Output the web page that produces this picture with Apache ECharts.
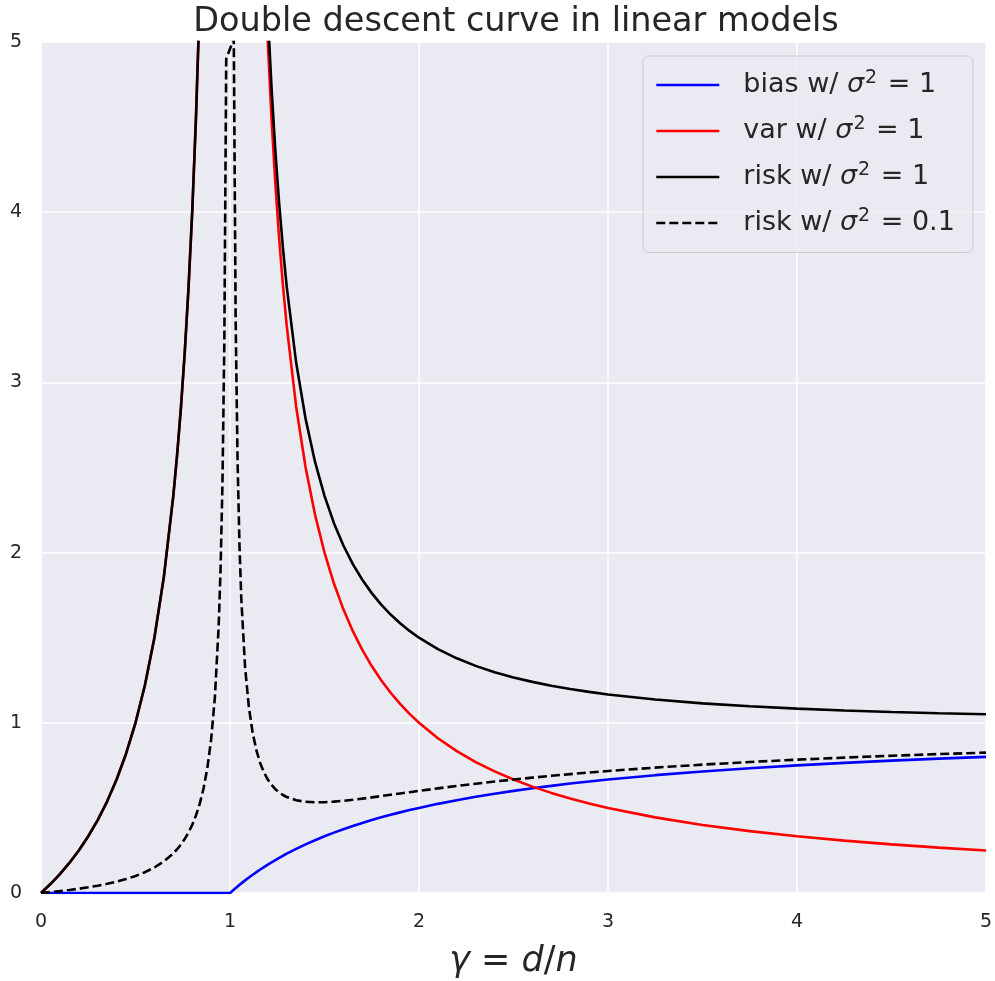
<!DOCTYPE html>
<html>
<head>
<meta charset="utf-8">
<script src="https://cdn.jsdelivr.net/npm/echarts@6/dist/echarts.min.js"></script>
<style>
html,body{margin:0;padding:0;background:#fff;}
#c{width:995px;height:981px;}
</style>
</head>
<body>
<div id="c"></div>
<script>
// gamma = d/n sample points
var X = [0,0.05,0.1,0.15,0.2,0.25,0.3,0.35,0.4,0.45,0.5,0.55,0.6,0.65,0.7,
  0.72,0.74,0.76,0.78,0.8,0.82,0.84,0.86,0.88,0.9,0.92,0.94,0.95,0.96,0.97,0.98,
  1.0,
  1.02,1.03,1.04,1.05,1.06,1.08,1.1,1.12,1.14,1.16,1.18,1.2,1.22,1.24,1.26,1.28,1.3,
  1.35,1.4,1.45,1.5,1.55,1.6,1.65,1.7,1.75,1.8,1.85,1.9,1.95,2.0,
  2.1,2.2,2.3,2.4,2.5,2.6,2.7,2.8,2.9,3.0,
  3.25,3.5,3.75,4.0,4.25,4.5,4.75,5.0];

var BIAS = [0,0,0,0,0,0,0,0,0,0,0,0,0,0,0,
  0,0,0,0,0,0,0,0,0,0,0,0,0,0,0,0,
  0,
  0.0196,0.0291,0.0385,0.0476,0.0566,0.0741,0.0909,0.1071,0.1228,0.1379,0.1525,0.1667,0.1803,0.1935,0.2063,0.2188,0.2308,
  0.2593,0.2857,0.3103,0.3333,0.3548,0.375,0.3939,0.4118,0.4286,0.4444,0.4595,0.4737,0.4872,0.5,
  0.5238,0.5455,0.5652,0.5833,0.6,0.6154,0.6296,0.6429,0.6552,0.6667,
  0.6923,0.7143,0.7333,0.75,0.7647,0.7778,0.7895,0.8];

var VAR1 = [0,0.0526,0.1111,0.1765,0.25,0.3333,0.4286,0.5385,0.6667,0.8182,1,1.2222,1.5,1.8571,2.3333,
  2.5714,2.8462,3.1667,3.5455,4,4.5556,5.25,6.1429,7.3333,9,11.5,15.667,19,24,32.333,49,
  null,
  50,33.333,25,20,16.667,12.5,10,8.3333,7.1429,6.25,5.5556,5,4.5455,4.1667,3.8462,3.5714,3.3333,
  2.8571,2.5,2.2222,2,1.8182,1.6667,1.5385,1.4286,1.3333,1.25,1.1765,1.1111,1.0526,1,
  0.9091,0.8333,0.7692,0.7143,0.6667,0.625,0.5882,0.5556,0.5263,0.5,
  0.4444,0.4,0.3636,0.3333,0.3077,0.2857,0.2667,0.25];

var RISK1 = [0,0.0526,0.1111,0.1765,0.25,0.3333,0.4286,0.5385,0.6667,0.8182,1,1.2222,1.5,1.8571,2.3333,
  2.5714,2.8462,3.1667,3.5455,4,4.5556,5.25,6.1429,7.3333,9,11.5,15.667,19,24,32.333,49,
  null,
  50.02,33.362,25.038,20.048,16.723,12.574,10.091,8.4405,7.2657,6.3879,5.7081,5.1667,4.7258,4.3602,4.0525,3.7902,3.5641,
  3.1164,2.7857,2.5325,2.3333,2.173,2.0417,1.9324,1.8403,1.7619,1.6944,1.6359,1.5848,1.5398,1.5,
  1.4329,1.3788,1.3344,1.2976,1.2667,1.2404,1.2179,1.1984,1.1815,1.1667,
  1.1368,1.1143,1.097,1.0833,1.0724,1.0635,1.0561,1.05];

var RISK01 = [0,0.0053,0.0111,0.0176,0.025,0.0333,0.0429,0.0538,0.0667,0.0818,0.1,0.1222,0.15,0.1857,0.2333,
  0.2571,0.2846,0.3167,0.3545,0.4,0.4556,0.525,0.6143,0.7333,0.9,1.15,1.5667,1.9,2.4,3.2333,4.9,
  null,
  5.0196,3.3624,2.5385,2.0476,1.7233,1.3241,1.0909,0.9405,0.8371,0.7629,0.7081,0.6667,0.6349,0.6102,0.591,0.5759,0.5641,
  0.545,0.5357,0.5326,0.5333,0.5367,0.5417,0.5478,0.5546,0.5619,0.5694,0.5771,0.5848,0.5924,0.6,
  0.6147,0.6288,0.6421,0.6548,0.6667,0.6779,0.6885,0.6984,0.7078,0.7167,
  0.7368,0.7543,0.7697,0.7833,0.7955,0.8063,0.8162,0.825];

var SERIES_NAMES = ['bias', 'var', 'risk', 'risk01'];
var LEGEND_PREFIX = {bias: 'bias w/ ', 'var': 'var w/ ', risk: 'risk w/ ', risk01: 'risk w/ '};
var LEGEND_VALUE = {bias: '1', 'var': '1', risk: '1', risk01: '0.1'};
var TITLE = 'Double descent curve in linear models';

function pairs(ys) {
  return X.map(function (x, i) { return [x, ys[i]]; });
}

var chart = echarts.init(document.getElementById('c'), null, {renderer: 'canvas'});
var TXT = '#262626';
var SANS = '"DejaVu Sans", sans-serif';
var MATH = '"DejaVu Sans", sans-serif';

function lineSeries(name, ys, color, dashed) {
  return {
    name: name,
    type: 'line',
    data: pairs(ys),
    showSymbol: false,
    symbol: 'none',
    connectNulls: true,
    clip: true,
    animation: false,
    lineStyle: {color: color, width: 2.6, type: dashed ? [9, 4] : 'solid'},
    itemStyle: {color: color}
  };
}

chart.setOption({
  animation: false,
  backgroundColor: '#ffffff',
  title: {
    text: TITLE,
    left: 511,
    textAlign: 'center',
    top: 0,
    textStyle: {fontFamily: SANS, fontSize: 33.5, fontWeight: 'normal', color: TXT}
  },
  grid: {
    left: 41, right: 9, top: 42, bottom: 88,
    outerBoundsMode: 'none',
    containLabel: false,
    show: true, backgroundColor: '#EAEAF2', borderWidth: 0
  },
  legend: {
    orient: 'vertical',
    left: 643,
    top: 56,
    padding: [13, 18, 16, 12],
    itemWidth: 63,
    itemHeight: 27,
    itemGap: 16.5,
    backgroundColor: 'rgba(234,234,242,0.85)',
    borderColor: '#CCCCCC',
    borderWidth: 1,
    borderRadius: 5,
    itemStyle: {opacity: 0},
    lineStyle: {width: 2.6},
    data: SERIES_NAMES,
    formatter: function (name) {
      return '{t|' + LEGEND_PREFIX[name] + '}{s|σ}{p|2}{m| = ' + LEGEND_VALUE[name] + '}';
    },
    textStyle: {
      color: TXT,
      padding: [0, 0, 0, 19],
      rich: {
        t: {fontFamily: SANS, fontSize: 27, color: TXT},
        s: {fontFamily: MATH, fontStyle: 'italic', fontSize: 27, color: TXT},
        p: {fontFamily: MATH, fontSize: 19, color: TXT, padding: [0, 2, 13, 1]},
        m: {fontFamily: MATH, fontSize: 27, color: TXT}
      }
    }
  },
  xAxis: {
    type: 'value',
    min: 0, max: 5, interval: 1,
    axisLine: {show: false},
    axisTick: {show: false},
    axisLabel: {fontFamily: SANS, fontSize: 19, color: TXT, margin: 20},
    splitLine: {show: true, lineStyle: {color: '#ffffff', width: 1.5}},
    name: '{m|γ}{r| = }{m|d}{r|/}{m|n}',
    nameLocation: 'middle',
    nameGap: 51,
    nameTextStyle: {
      rich: {
        m: {fontFamily: MATH, fontStyle: 'italic', fontSize: 35, color: TXT},
        r: {fontFamily: MATH, fontSize: 35, color: TXT}
      }
    }
  },
  yAxis: {
    type: 'value',
    min: 0, max: 5, interval: 1,
    axisLine: {show: false},
    axisTick: {show: false},
    axisLabel: {fontFamily: SANS, fontSize: 19, color: TXT, margin: 19},
    splitLine: {show: true, lineStyle: {color: '#ffffff', width: 1.5}}
  },
  series: [
    lineSeries('bias', BIAS, '#0000FF', false),
    lineSeries('var', VAR1, '#FF0000', false),
    lineSeries('risk', RISK1, '#000000', false),
    lineSeries('risk01', RISK01, '#000000', true)
  ]
});
</script>
</body>
</html>
